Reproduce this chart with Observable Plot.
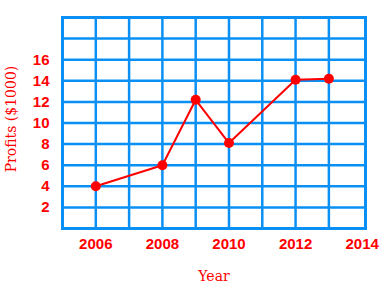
<!DOCTYPE html>
<html>
<head>
<meta charset="utf-8">
<script src="https://cdn.jsdelivr.net/npm/d3@7"></script>
<script src="https://cdn.jsdelivr.net/npm/@observablehq/plot@0.6"></script>
<style>
  html, body { margin: 0; padding: 0; background: #fff; }
</style>
</head>
<body>
<div id="chart"></div>
<script>
const years = [2006, 2008, 2009, 2010, 2012, 2013];
const profits = [4, 6, 12.2, 8.1, 14.1, 14.2];
const xTickLabels = [2006, 2008, 2010, 2012, 2014];
const yTickLabels = [2, 4, 6, 8, 10, 12, 14, 16];
const xGrid = [2006, 2007, 2008, 2009, 2010, 2011, 2012, 2013];
const yGrid = [2, 4, 6, 8, 10, 12, 14, 16, 18];
const xTitle = "Year";
const yTitle = "Profits ($1000)";

const data = years.map((y, i) => ({year: y, profit: profits[i]}));
const blue = "#0a90f5";
const red = "#ff0000";

const chart = Plot.plot({
  width: 392,
  height: 299,
  marginLeft: 62,
  marginRight: 27,
  marginTop: 17,
  marginBottom: 71,
  style: {fontFamily: "'Liberation Sans', Arial, sans-serif", background: "#fff"},
  x: {domain: [2005, 2014.1], label: null},
  y: {domain: [0, 20], label: null},
  marks: [
    Plot.ruleX(xGrid, {stroke: blue, strokeWidth: 2.5}),
    Plot.ruleY(yGrid, {stroke: blue, strokeWidth: 2.5}),
    Plot.frame({stroke: blue, strokeWidth: 3}),
    Plot.axisX(xTickLabels, {tickSize: 0, tickPadding: 10, fontSize: 15, fontWeight: "bold", fill: red, tickFormat: d => String(d), label: null}),
    Plot.axisY(yTickLabels, {tickSize: 0, tickPadding: 13, fontSize: 15, fontWeight: "bold", fill: red, label: null}),
    Plot.line(data, {x: "year", y: "profit", stroke: red, strokeWidth: 2}),
    Plot.dot(data, {x: "year", y: "profit", r: 5, fill: red, stroke: "none"}),
    Plot.text([xTitle], {frameAnchor: "bottom", dy: 52, fontFamily: "'DejaVu Serif', serif", fontSize: 14, fill: red}),
    Plot.text([yTitle], {frameAnchor: "left", textAnchor: "middle", rotate: -90, dx: -51, dy: -4, fontFamily: "'DejaVu Serif', serif", fontSize: 14, fill: red})
  ]
});
document.getElementById("chart").appendChild(chart);
</script>
</body>
</html>
